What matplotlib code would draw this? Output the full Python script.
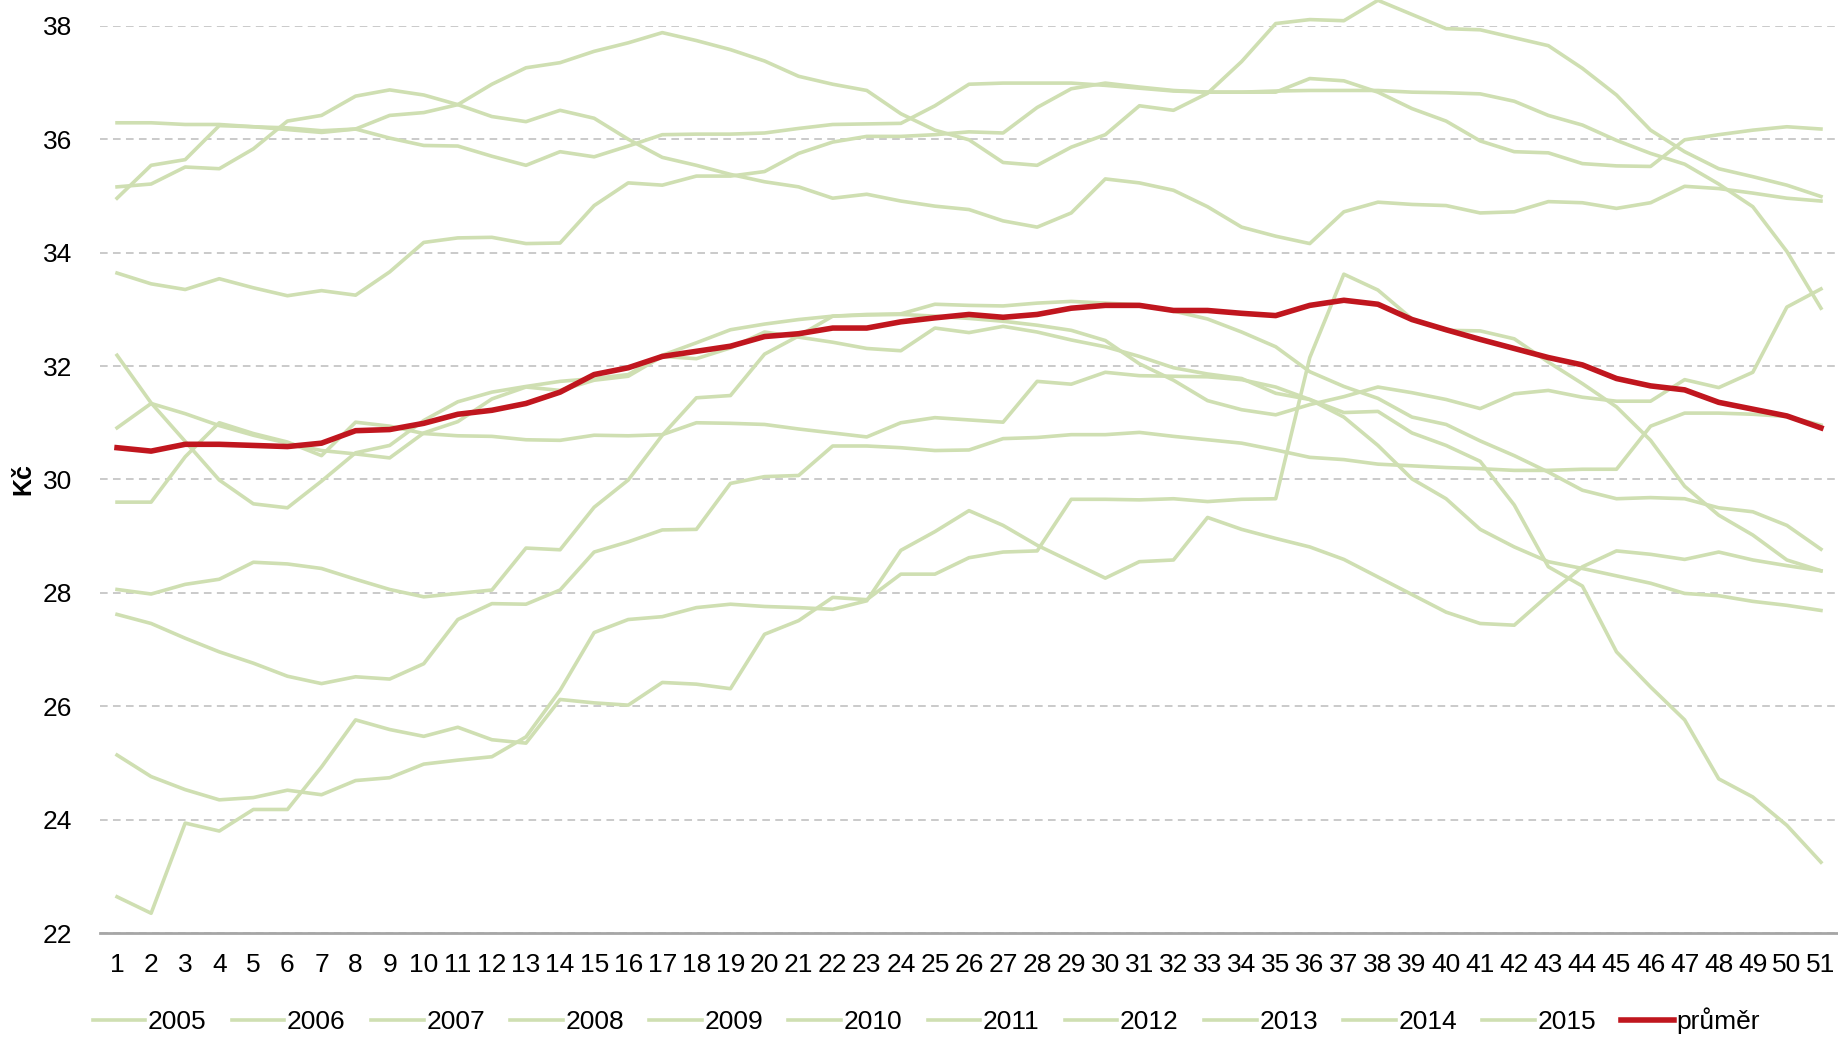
import matplotlib
matplotlib.use("Agg")
import matplotlib.pyplot as plt

plt.rcParams['font.family'] = ['Liberation Sans', 'DejaVu Sans']

weeks = list(range(1, 52))

# weekly prices (Kč), one list per year
s2005 = [36.29, 36.29, 36.26, 36.26, 36.22, 36.20, 36.15, 36.18, 36.02, 35.89,
         35.88, 35.70, 35.54, 35.78, 35.69, 35.88, 36.08, 36.09, 36.09, 36.11,
         36.19, 36.26, 36.27, 36.28, 36.59, 36.97, 36.99, 36.99, 36.99, 36.95,
         36.90, 36.85, 36.83, 36.83, 36.85, 36.86, 36.86, 36.86, 36.83, 36.82,
         36.80, 36.67, 36.42, 36.25, 35.98, 35.75, 35.56, 35.21, 34.81, 34.02, 33.02]
s2006 = [35.16, 35.21, 35.51, 35.48, 35.83, 36.32, 36.42, 36.76, 36.87, 36.78,
         36.61, 36.40, 36.31, 36.51, 36.37, 36.00, 35.68, 35.54, 35.38, 35.25,
         35.16, 34.96, 35.03, 34.91, 34.82, 34.76, 34.56, 34.45, 34.70, 35.30,
         35.23, 35.10, 34.81, 34.45, 34.29, 34.16, 34.72, 34.89, 34.85, 34.83,
         34.70, 34.72, 34.90, 34.88, 34.78, 34.88, 35.17, 35.13, 35.05, 34.96, 34.91]
s2007 = [34.96, 35.54, 35.64, 36.24, 36.22, 36.17, 36.12, 36.18, 36.42, 36.47,
         36.61, 36.97, 37.26, 37.35, 37.55, 37.70, 37.88, 37.74, 37.58, 37.38,
         37.11, 36.97, 36.86, 36.45, 36.16, 35.99, 35.59, 35.54, 35.86, 36.08,
         36.59, 36.51, 36.81, 37.37, 38.04, 38.11, 38.09, 38.45, 38.20, 37.95,
         37.93, 37.79, 37.65, 37.25, 36.78, 36.16, 35.78, 35.48, 35.34, 35.19, 34.99]
s2008 = [33.64, 33.45, 33.35, 33.54, 33.38, 33.24, 33.33, 33.25, 33.66, 34.18,
         34.26, 34.27, 34.16, 34.17, 34.83, 35.23, 35.19, 35.35, 35.35, 35.43,
         35.75, 35.95, 36.05, 36.05, 36.08, 36.13, 36.11, 36.56, 36.89, 36.99,
         36.92, 36.86, 36.83, 36.83, 36.83, 37.07, 37.03, 36.83, 36.54, 36.32,
         35.97, 35.78, 35.76, 35.57, 35.53, 35.52, 35.99, 36.08, 36.16, 36.22, 36.18]
s2009 = [32.19, 31.35, 30.67, 29.99, 29.57, 29.50, 29.97, 30.47, 30.60, 31.04,
         31.37, 31.54, 31.64, 31.73, 31.78, 31.85, 32.19, 32.41, 32.64, 32.74,
         32.82, 32.88, 32.91, 32.92, 33.09, 33.07, 33.06, 33.11, 33.14, 33.11,
         33.08, 32.97, 32.83, 32.60, 32.34, 31.90, 31.64, 31.43, 31.10, 30.97,
         30.68, 30.42, 30.13, 29.81, 29.66, 29.68, 29.66, 29.50, 29.43, 29.19, 28.77]
s2010 = [30.91, 31.34, 31.16, 30.95, 30.78, 30.64, 30.51, 30.45, 30.38, 30.82,
         31.02, 31.42, 31.63, 31.57, 31.75, 31.82, 32.17, 32.13, 32.32, 32.60,
         32.51, 32.42, 32.31, 32.27, 32.67, 32.59, 32.70, 32.60, 32.46, 32.34,
         32.17, 31.97, 31.86, 31.78, 31.52, 31.41, 31.18, 31.20, 30.82, 30.60,
         30.32, 29.55, 28.46, 28.12, 26.96, 26.34, 25.76, 24.72, 24.40, 23.90, 23.25]
s2011 = [29.60, 29.60, 30.40, 31.00, 30.81, 30.66, 30.42, 31.01, 30.94, 30.81,
         30.77, 30.76, 30.70, 30.69, 30.78, 30.77, 30.79, 31.00, 30.99, 30.97,
         30.89, 30.82, 30.75, 31.00, 31.09, 31.05, 31.01, 31.73, 31.68, 31.89,
         31.83, 31.82, 31.81, 31.76, 31.63, 31.41, 31.10, 30.60, 30.01, 29.66,
         29.12, 28.81, 28.55, 28.43, 28.30, 28.17, 27.99, 27.95, 27.85, 27.78, 27.69]
s2012 = [28.06, 27.98, 28.15, 28.24, 28.54, 28.51, 28.43, 28.24, 28.06, 27.93,
         27.99, 28.05, 28.79, 28.76, 29.51, 29.99, 30.78, 31.44, 31.48, 32.21,
         32.53, 32.88, 32.90, 32.91, 32.88, 32.84, 32.79, 32.72, 32.63, 32.45,
         32.04, 31.75, 31.39, 31.23, 31.14, 31.32, 31.46, 31.63, 31.53, 31.41,
         31.25, 31.51, 31.57, 31.45, 31.38, 31.38, 31.76, 31.62, 31.89, 33.04, 33.36]
s2013 = [27.62, 27.46, 27.20, 26.96, 26.76, 26.53, 26.40, 26.52, 26.48, 26.75,
         27.53, 27.81, 27.80, 28.05, 28.72, 28.90, 29.11, 29.12, 29.93, 30.05,
         30.07, 30.59, 30.59, 30.56, 30.51, 30.52, 30.72, 30.74, 30.79, 30.79,
         30.83, 30.76, 30.70, 30.64, 30.52, 30.39, 30.35, 30.27, 30.24, 30.21,
         30.19, 30.16, 30.16, 30.18, 30.18, 30.94, 31.17, 31.17, 31.15, 31.11, 30.96]
s2014 = [25.14, 24.76, 24.53, 24.35, 24.39, 24.52, 24.44, 24.69, 24.74, 24.98,
         25.05, 25.11, 25.46, 26.28, 27.30, 27.53, 27.58, 27.74, 27.80, 27.76,
         27.74, 27.71, 27.86, 28.75, 29.08, 29.45, 29.19, 28.84, 28.55, 28.26,
         28.55, 28.58, 29.33, 29.12, 28.96, 28.81, 28.59, 28.28, 27.97, 27.66,
         27.46, 27.43, 27.96, 28.46, 28.74, 28.68, 28.59, 28.72, 28.58, 28.48, 28.39]
s2015 = [22.64, 22.35, 23.94, 23.80, 24.18, 24.18, 24.93, 25.76, 25.59, 25.47,
         25.63, 25.41, 25.35, 26.12, 26.06, 26.02, 26.42, 26.39, 26.31, 27.27,
         27.51, 27.92, 27.88, 28.33, 28.33, 28.62, 28.72, 28.74, 29.65, 29.65,
         29.64, 29.66, 29.61, 29.65, 29.66, 32.15, 33.62, 33.34, 32.83, 32.63,
         32.62, 32.48, 32.07, 31.69, 31.28, 30.69, 29.88, 29.37, 29.02, 28.58, 28.39]
prumer = [30.56, 30.50, 30.62, 30.62, 30.60, 30.58, 30.64, 30.86, 30.88, 30.99,
          31.15, 31.22, 31.34, 31.54, 31.85, 31.97, 32.17, 32.26, 32.35, 32.52,
          32.57, 32.67, 32.67, 32.78, 32.85, 32.91, 32.86, 32.91, 33.02, 33.07,
          33.07, 32.98, 32.98, 32.93, 32.89, 33.07, 33.16, 33.09, 32.82, 32.64,
          32.47, 32.31, 32.15, 32.02, 31.78, 31.65, 31.58, 31.36, 31.24, 31.12, 30.91]

years = ['2005', '2006', '2007', '2008', '2009', '2010', '2011', '2012', '2013', '2014', '2015']
series = [s2005, s2006, s2007, s2008, s2009, s2010, s2011, s2012, s2013, s2014, s2015]

green = '#cfdfb2'
red = '#c0161e'

fig = plt.figure(figsize=(18.38, 10.37), dpi=100)
ax = fig.add_axes([100/1838, 0.1002, 1 - 100/1838, 0.9751 - 0.1002])

for name, vals in zip(years, series):
    ax.plot(weeks, vals, color=green, lw=2.6, label=name, clip_on=False, zorder=2)
ax.plot(weeks, prumer, color=red, lw=4.0, label='průměr', clip_on=False, zorder=3)

ax.set_xlim(0.5, 51.5)
ax.set_ylim(22, 38)
ax.set_yticks(range(22, 39, 2))
ax.set_xticks(weeks)
ax.tick_params(axis='both', length=0, labelsize=19)
ax.tick_params(axis='x', pad=14)
ax.tick_params(axis='y', pad=20)
ax.yaxis.grid(True, color='#bcbcbc', linestyle=(0, (5, 3.5)), lw=1.1)
ax.set_axisbelow(True)
for side in ['left', 'right', 'top']:
    ax.spines[side].set_visible(False)
ax.spines['bottom'].set_color('#a6a6a6')
ax.spines['bottom'].set_linewidth(2)
ax.set_ylabel('Kč', fontsize=18, fontweight='bold', labelpad=5)

fig.legend(loc='lower center', bbox_to_anchor=(0.504, -0.02), ncol=12, frameon=False,
           fontsize=19, handlelength=2.0, handletextpad=0.1, columnspacing=0.95)

fig.savefig('out.png', dpi=100)
